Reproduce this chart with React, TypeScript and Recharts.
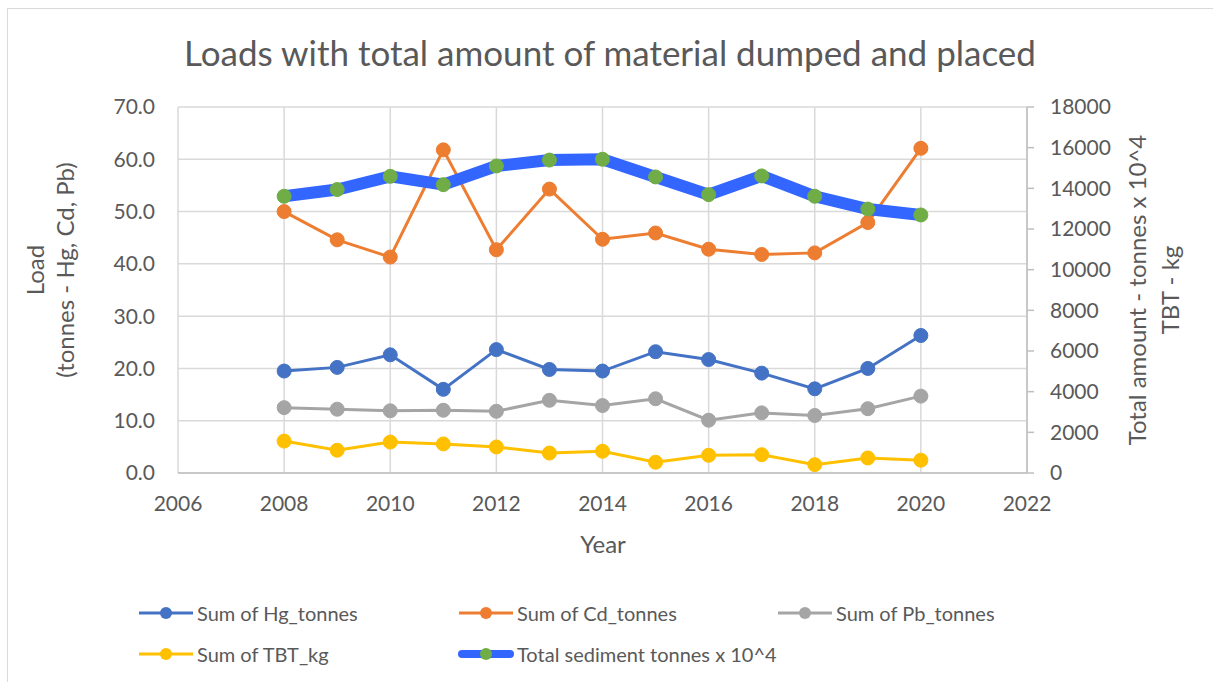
import React from 'react';
import {
  ComposedChart,
  Line,
  XAxis,
  YAxis,
  CartesianGrid,
} from 'recharts';

// values
const years = [2008, 2009, 2010, 2011, 2012, 2013, 2014, 2015, 2016, 2017, 2018, 2019, 2020];
const hgTonnes = [19.5, 20.2, 22.6, 16.0, 23.6, 19.8, 19.5, 23.2, 21.7, 19.1, 16.1, 20.0, 26.3];
const cdTonnes = [50.0, 44.6, 41.3, 61.8, 42.7, 54.3, 44.7, 45.9, 42.8, 41.8, 42.1, 47.9, 62.1];
const pbTonnes = [12.5, 12.2, 11.9, 12.0, 11.8, 13.9, 12.9, 14.2, 10.1, 11.5, 11.0, 12.3, 14.7];
const tbtKg = [1570, 1120, 1520, 1430, 1280, 980, 1070, 530, 870, 900, 410, 740, 630];
const sedimentTonnes = [13610, 13940, 14590, 14180, 15100, 15390, 15430, 14560, 13690, 14610, 13610, 12980, 12690];

const yearTicks = [2006, 2008, 2010, 2012, 2014, 2016, 2018, 2020, 2022];
const loadTicks = [0, 10, 20, 30, 40, 50, 60, 70];
const amountTicks = [0, 2000, 4000, 6000, 8000, 10000, 12000, 14000, 16000, 18000];

const FONT = 'Lato, "Liberation Sans", sans-serif';
const TEXT = '#595959';
const AXIS = '#bfbfbf';
const GRID = '#d9d9d9';

const data = years.map((year, i) => ({
  year,
  hg: hgTonnes[i],
  cd: cdTonnes[i],
  pb: pbTonnes[i],
  tbt: tbtKg[i],
  sediment: sedimentTonnes[i],
}));

const legendItems = [
  { name: 'Sum of Hg_tonnes', color: '#4472C4', dot: '#4472C4', thick: false, x: 138, y: 613 },
  { name: 'Sum of Cd_tonnes', color: '#ED7D31', dot: '#ED7D31', thick: false, x: 458, y: 613 },
  { name: 'Sum of Pb_tonnes', color: '#A5A5A5', dot: '#A5A5A5', thick: false, x: 777, y: 613 },
  { name: 'Sum of TBT_kg', color: '#FFC000', dot: '#FFC000', thick: false, x: 138, y: 654 },
  { name: 'Total sediment tonnes x 10^4', color: '#3366FF', dot: '#70AD47', thick: true, x: 458, y: 654 },
];

const tickStyle = { fill: TEXT, fontSize: 21, fontFamily: FONT };

const App: React.FC = () => {
  return (
    <div style={{ position: 'absolute', left: 0, top: 0, width: 1213, height: 682, background: '#fff', overflow: 'hidden' }}>
      <div
        style={{
          position: 'absolute',
          left: 7,
          top: 8,
          width: 1240,
          height: 700,
          border: '1px solid ' + GRID,
          boxSizing: 'border-box',
        }}
      />
      <div
        style={{
          position: 'absolute',
          left: 0,
          width: 1220,
          top: 29,
          textAlign: 'center',
          fontFamily: FONT,
          fontSize: 35,
          color: TEXT,
          lineHeight: '46px',
        }}
      >
        Loads with total amount of material dumped and placed
      </div>

      <ComposedChart
        width={1213}
        height={682}
        data={data}
        margin={{ top: 107, right: 106, bottom: 169, left: 118 }}
        style={{ position: 'absolute', left: 0, top: 0 }}
      >
        <CartesianGrid yAxisId="left" stroke={GRID} strokeWidth={1.5} verticalValues={yearTicks} />
        <XAxis
          dataKey="year"
          type="number"
          domain={[2006, 2022]}
          ticks={yearTicks}
          height={40}
          stroke={AXIS}
          strokeWidth={1.5}
          tickLine={false}
          tickSize={0}
          tickMargin={23}
          tick={tickStyle}
        />
        <YAxis
          yAxisId="left"
          orientation="left"
          domain={[0, 70]}
          ticks={loadTicks}
          width={60}
          axisLine={false}
          tickLine={false}
          tickSize={0}
          tickMargin={23}
          tickFormatter={(v: number) => v.toFixed(1)}
          tick={tickStyle}
        />
        <YAxis
          yAxisId="right"
          orientation="right"
          domain={[0, 18000]}
          ticks={amountTicks}
          width={80}
          stroke={AXIS}
          strokeWidth={1.5}
          tickSize={7}
          tickMargin={16}
          tick={tickStyle}
        />
        <Line
          yAxisId="left"
          dataKey="hg"
          stroke="#4472C4"
          strokeWidth={3}
          dot={{ r: 7, fill: '#4472C4', stroke: '#4472C4', strokeWidth: 1 }}
          isAnimationActive={false}
        />
        <Line
          yAxisId="left"
          dataKey="cd"
          stroke="#ED7D31"
          strokeWidth={3}
          dot={{ r: 7, fill: '#ED7D31', stroke: '#ED7D31', strokeWidth: 1 }}
          isAnimationActive={false}
        />
        <Line
          yAxisId="left"
          dataKey="pb"
          stroke="#A5A5A5"
          strokeWidth={3}
          dot={{ r: 7, fill: '#A5A5A5', stroke: '#A5A5A5', strokeWidth: 1 }}
          isAnimationActive={false}
        />
        <Line
          yAxisId="right"
          dataKey="tbt"
          stroke="#FFC000"
          strokeWidth={3}
          dot={{ r: 7, fill: '#FFC000', stroke: '#FFC000', strokeWidth: 1 }}
          isAnimationActive={false}
        />
        <Line
          yAxisId="right"
          dataKey="sediment"
          stroke="#3366FF"
          strokeWidth={12}
          dot={{ r: 7, fill: '#70AD47', stroke: '#70AD47', strokeWidth: 1 }}
          isAnimationActive={false}
        />
      </ComposedChart>

      {/* axis titles */}
      <div
        style={{
          position: 'absolute',
          left: 50,
          top: 270,
          transform: 'translate(-50%, -50%) rotate(-90deg)',
          whiteSpace: 'nowrap',
          textAlign: 'center',
          fontFamily: FONT,
          fontSize: 24,
          lineHeight: '30px',
          color: TEXT,
        }}
      >
        Load
        <br />
        (tonnes - Hg, Cd, Pb)
      </div>
      <div
        style={{
          position: 'absolute',
          left: 1153,
          top: 290,
          transform: 'translate(-50%, -50%) rotate(-90deg)',
          whiteSpace: 'nowrap',
          textAlign: 'center',
          fontFamily: FONT,
          fontSize: 24,
          lineHeight: '33px',
          color: TEXT,
        }}
      >
        Total amount - tonnes x 10^4
        <br />
        TBT - kg
      </div>
      <div
        style={{
          position: 'absolute',
          left: 603,
          top: 543,
          transform: 'translate(-50%, -50%)',
          fontFamily: FONT,
          fontSize: 24,
          color: TEXT,
        }}
      >
        Year
      </div>

      {/* legend */}
      {legendItems.map((item) => (
        <div
          key={item.name}
          style={{
            position: 'absolute',
            left: item.x,
            top: item.y - 15,
            height: 30,
            display: 'flex',
            alignItems: 'center',
            fontFamily: FONT,
            fontSize: 20,
            color: TEXT,
            whiteSpace: 'nowrap',
          }}
        >
          <svg width={56} height={30} style={{ marginRight: 3 }}>
            <line
              x1={item.thick ? 4 : 1}
              x2={item.thick ? 52 : 55}
              y1={15}
              y2={15}
              stroke={item.color}
              strokeWidth={item.thick ? 8 : 3}
              strokeLinecap={item.thick ? 'round' : 'butt'}
            />
            <circle cx={28} cy={15} r={6} fill={item.dot} />
          </svg>
          {item.name}
        </div>
      ))}
    </div>
  );
};

export default App;
